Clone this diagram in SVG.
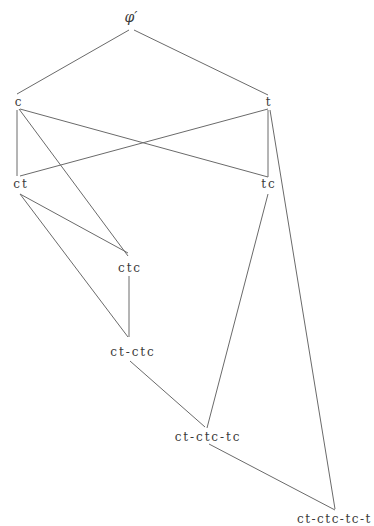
<svg xmlns="http://www.w3.org/2000/svg" width="374" height="526" viewBox="0 0 374 526">
<style>
.bg{fill:#ffffff}
.edge{stroke:#6a6a6a;stroke-width:1;fill:none}
.lbl{font-family:"DejaVu Serif",serif;font-size:12px;fill:#3a3a3a;text-anchor:middle;letter-spacing:1.9px}
.top{font-family:"DejaVu Serif",serif;font-style:italic;font-size:14px;fill:#3a3a3a;text-anchor:middle}
</style>
<rect class="bg" x="0" y="0" width="374" height="526"/>
<g id="connectors">
<line class="edge" x1="129" y1="30" x2="17" y2="94"/>
<line class="edge" x1="134" y1="30" x2="268" y2="95"/>
<line class="edge" x1="17" y1="110" x2="17" y2="176"/>
<line class="edge" x1="20" y1="109" x2="268" y2="177"/>
<line class="edge" x1="19" y1="109" x2="128" y2="256"/>
<line class="edge" x1="268" y1="109" x2="20" y2="176"/>
<line class="edge" x1="268" y1="110" x2="268" y2="177"/>
<line class="edge" x1="270" y1="110" x2="335" y2="509"/>
<line class="edge" x1="20" y1="194" x2="128" y2="253"/>
<line class="edge" x1="20" y1="194" x2="128" y2="337"/>
<line class="edge" x1="129" y1="276" x2="129" y2="337"/>
<line class="edge" x1="268" y1="194" x2="207" y2="428"/>
<line class="edge" x1="130" y1="361" x2="205" y2="427"/>
<line class="edge" x1="209" y1="444" x2="335" y2="510"/>
</g>
<g id="n-top"><text class="top" x="131" y="22">φ′</text></g>
<g id="n-c"><text class="lbl" x="19" y="106">c</text></g>
<g id="n-t"><text class="lbl" x="269" y="106">t</text></g>
<g id="n-ct"><text class="lbl" x="21" y="188">ct</text></g>
<g id="n-tc"><text class="lbl" x="269" y="188">tc</text></g>
<g id="n-ctc"><text class="lbl" x="130" y="272">ctc</text></g>
<g id="n-ct-ctc"><text class="lbl" x="133" y="356">ct-ctc</text></g>
<g id="n-ct-ctc-tc"><text class="lbl" x="208" y="441">ct-ctc-tc</text></g>
<g id="n-ct-ctc-tc-t"><text class="lbl" x="297" y="523" style="text-anchor:start;letter-spacing:1.5px">ct-ctc-tc-t</text></g>
</svg>
